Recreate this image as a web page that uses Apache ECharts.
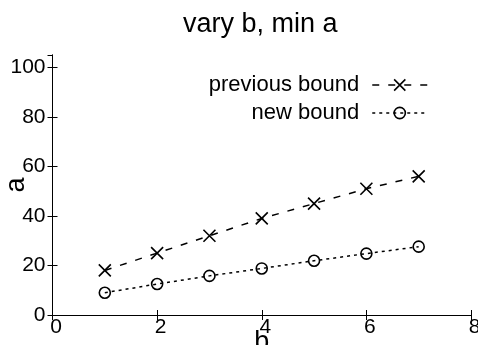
<!DOCTYPE html>
<html>
<head>
<meta charset="utf-8">
<script src="https://cdn.jsdelivr.net/npm/echarts@6/dist/echarts.min.js"></script>
<style>
  html, body { margin: 0; padding: 0; background: #fff; }
  #chart { width: 478px; height: 345px; }
</style>
</head>
<body>
<div id="chart"></div>
<script>
// b values and the two bounds on a
const bValues = [1, 2, 3, 4, 5, 6, 7];
const previousBound = [18, 25, 32, 39, 45, 51, 56];
const newBound = [9, 12.5, 15.8, 18.8, 21.9, 24.8, 27.6];
const xTicks = { min: 0, max: 8, interval: 2 };
const yTicks = { min: 0, max: 105, interval: 20 };

const FONT = 'Liberation Sans';
const crossPath = 'path://M0,0L10,10M10,0L0,10';

function pairs(ys) {
  return bValues.map((b, i) => [b, ys[i]]);
}

const chart = echarts.init(document.getElementById('chart'), null, { renderer: 'canvas' });

const frameAxis = {
  axisLine: { show: true, lineStyle: { color: '#000', width: 1 } },
  axisTick: { show: true, inside: true, length: 5, lineStyle: { color: '#000', width: 1 } },
  splitLine: { show: false }
};

const markerStyle = { color: 'transparent', borderColor: '#000', borderWidth: 1.6 };
const dashed = { color: '#000', width: 1.5, type: [7, 9] };
const dotted = { color: '#000', width: 1.5, type: [3, 4] };

chart.setOption({
  backgroundColor: '#fff',
  animation: false,
  textStyle: { fontFamily: FONT },
  title: {
    text: 'vary b, min a',
    left: 178,
    top: 6,
    padding: 5,
    textStyle: { fontFamily: FONT, fontSize: 27, fontWeight: 'normal', color: '#000' }
  },
  grid: { left: 52.5, right: 7, top: 55, bottom: 30, containLabel: false, outerBoundsMode: 'none' },
  legend: {
    orient: 'vertical',
    right: 45,
    top: 69,
    align: 'right',
    itemWidth: 55,
    itemHeight: 14,
    itemGap: 6,
    textStyle: { fontFamily: FONT, fontSize: 22, color: '#000', padding: [0, 8, 0, 0] },
    data: [
      { name: 'previous bound', itemStyle: markerStyle, lineStyle: dashed },
      { name: 'new bound', itemStyle: markerStyle, lineStyle: dotted }
    ]
  },
  xAxis: [
    Object.assign({
      type: 'value',
      position: 'bottom',
      min: xTicks.min, max: xTicks.max, interval: xTicks.interval,
      name: 'b',
      nameLocation: 'middle',
      nameGap: 14,
      nameMoveOverlap: false,
      nameTextStyle: { fontFamily: FONT, fontSize: 27, color: '#000' },
      axisLabel: { show: true, margin: 2, padding: [0, 0, 0, 7], fontFamily: FONT, fontSize: 21, color: '#000' }
    }, frameAxis),
    Object.assign({
      type: 'value',
      position: 'top',
      min: xTicks.min, max: xTicks.max, interval: xTicks.interval,
      axisLabel: { show: false }
    }, frameAxis)
  ],
  yAxis: [
    Object.assign({
      type: 'value',
      position: 'left',
      min: yTicks.min, max: yTicks.max, interval: yTicks.interval,
      name: 'a',
      nameLocation: 'middle',
      nameGap: 22,
      nameMoveOverlap: false,
      nameTextStyle: { fontFamily: FONT, fontSize: 27, color: '#000' },
      axisLabel: { show: true, margin: 7, showMaxLabel: false, fontFamily: FONT, fontSize: 21, color: '#000' }
    }, frameAxis),
    Object.assign({
      type: 'value',
      position: 'right',
      min: yTicks.min, max: yTicks.max, interval: yTicks.interval,
      axisLabel: { show: false }
    }, frameAxis)
  ],
  series: [
    {
      name: 'previous bound',
      type: 'line',
      data: pairs(previousBound),
      symbol: crossPath,
      symbolSize: 12,
      showAllSymbol: true,
      lineStyle: dashed,
      itemStyle: markerStyle,
      emphasis: { disabled: true }
    },
    {
      name: 'new bound',
      type: 'line',
      data: pairs(newBound),
      symbol: 'circle',
      symbolSize: 11,
      showAllSymbol: true,
      lineStyle: dotted,
      itemStyle: markerStyle,
      emphasis: { disabled: true }
    }
  ]
});
</script>
</body>
</html>
